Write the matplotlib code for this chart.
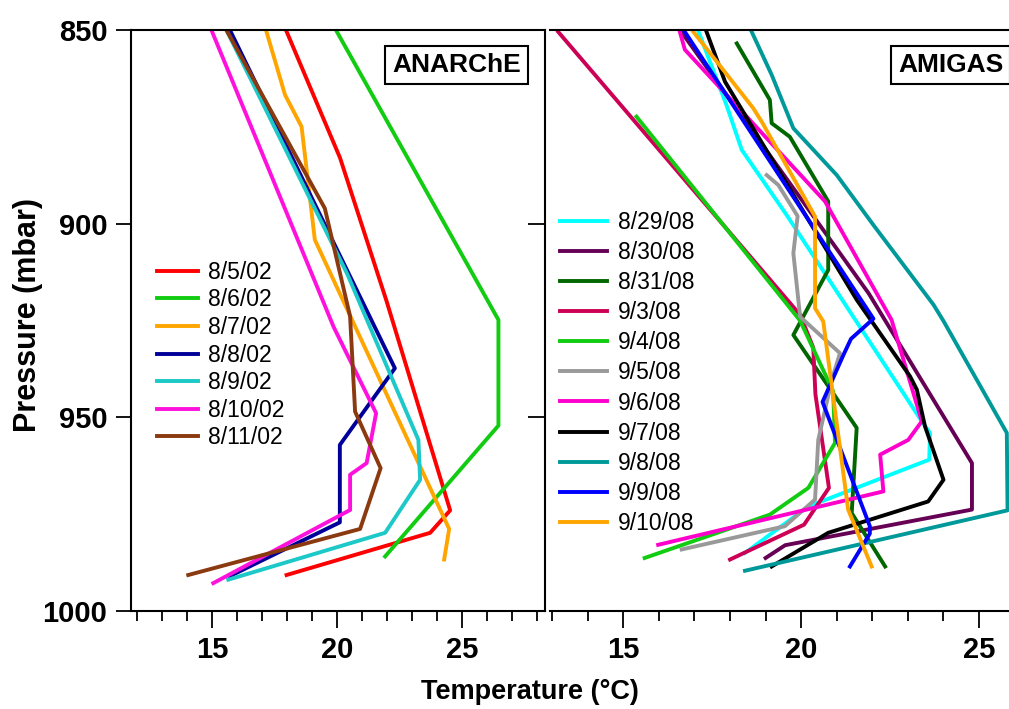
import matplotlib
matplotlib.use("Agg")
import matplotlib.pyplot as plt
from matplotlib.ticker import MultipleLocator

plt.rcParams['font.family'] = ['Liberation Sans', 'DejaVu Sans']

# ---- ANARChE soundings (left panel): pressure (mbar) / temperature (C)
p_0805 = [850, 883, 920, 974, 979.8, 990.7]
t_0805 = [17.95, 20.11, 21.97, 24.51, 23.71, 17.97]
p_0806 = [850, 924.8, 952.1, 985.9]
t_0806 = [19.95, 26.44, 26.44, 21.91]
p_0807 = [850, 866.7, 874.9, 904.1, 978.8, 986.7]
t_0807 = [17.15, 17.91, 18.57, 19.1, 24.47, 24.27]
p_0808 = [850, 937.3, 957.1, 977.1, 991]
t_0808 = [15.71, 22.3, 20.1, 20.1, 15.7]
p_0809 = [850, 913, 955.8, 966.1, 979.8, 991.9]
t_0809 = [15.57, 20.4, 23.24, 23.31, 21.91, 15.64]
p_0810 = [850, 926.6, 948.9, 961.8, 964.8, 973.9, 992.8]
t_0810 = [14.97, 19.85, 21.55, 21.17, 20.51, 20.51, 15.04]
p_0811 = [850, 896, 923.9, 948.5, 963.1, 978.8, 990.7]
t_0811 = [15.57, 19.5, 20.51, 20.71, 21.73, 20.91, 14.04]

anarche_dates = ['8/5/02', '8/6/02', '8/7/02', '8/8/02', '8/9/02', '8/10/02', '8/11/02']
anarche_p = [p_0805, p_0806, p_0807, p_0808, p_0809, p_0810, p_0811]
anarche_t = [t_0805, t_0806, t_0807, t_0808, t_0809, t_0810, t_0811]
anarche_colors = ['#ff0000', '#11cc11', '#ffa500', '#000099', '#1cc8c8', '#ff11dd', '#8b3a0f']

# ---- AMIGAS soundings (right panel)
p_0829 = [850, 869.3, 880.9, 897.7, 951, 954, 960.9, 973, 985]
t_0829 = [17.1, 17.9, 18.33, 19.59, 23.39, 23.62, 23.6, 20.2, 18.42]
p_0830 = [850, 918, 961.8, 973.8, 983, 986.3]
t_0830 = [16.6, 21.9, 24.8, 24.8, 19.55, 19.0]
p_0831 = [853.4, 868, 874, 877.5, 894.2, 911.9, 928.7, 952.7, 974.7, 988.5]
t_0831 = [18.19, 19.12, 19.17, 19.68, 20.76, 20.76, 19.78, 21.56, 21.42, 22.36]
p_0903 = [850.4, 923.5, 932, 944, 968.2, 977.7, 986.7]
t_0903 = [13.17, 19.97, 20.34, 20.4, 20.78, 20.08, 18.0]
p_0904 = [872.3, 925, 943.3, 956.6, 968.2, 975.1, 986.3]
t_0904 = [15.37, 19.97, 20.9, 20.95, 20.2, 19.12, 15.6]
p_0905 = [887.4, 890, 898, 907.6, 924, 933.4, 940.3, 955.8, 971.2, 978.1, 984.1]
t_0905 = [19.03, 19.36, 19.9, 19.78, 19.97, 21.09, 20.86, 20.48, 20.39, 19.54, 16.64]
p_0906 = [850.4, 855, 894.2, 924.8, 951, 955.8, 959.6, 969.1, 982.9]
t_0906 = [16.59, 16.73, 20.67, 22.54, 23.39, 23.01, 22.22, 22.31, 15.98]
p_0907 = [850.4, 863.3, 919.6, 939.4, 942.8, 952.3, 966.1, 971.7, 979.8, 988.5]
t_0907 = [17.34, 17.86, 21.56, 23.06, 23.25, 23.48, 24.0, 23.57, 20.76, 19.17]
p_0908 = [850.4, 861.5, 875.3, 887.4, 900.3, 920.9, 925.1, 954, 974, 989.6]
t_0908 = [18.61, 19.17, 19.78, 21.0, 22.03, 23.72, 24.0, 25.78, 25.8, 18.42]
p_0909 = [850.4, 924.5, 929.7, 934, 946, 978.1, 980, 988.5]
t_0909 = [16.73, 22.03, 21.4, 21.18, 20.6, 21.93, 21.93, 21.37]
p_0910 = [850.4, 870.1, 873.6, 898.1, 921.8, 925.2, 973.8, 988.5]
t_0910 = [16.97, 18.65, 18.89, 20.39, 20.39, 20.62, 21.32, 21.98]

amigas_dates = ['8/29/08', '8/30/08', '8/31/08', '9/3/08', '9/4/08', '9/5/08',
                '9/6/08', '9/7/08', '9/8/08', '9/9/08', '9/10/08']
amigas_p = [p_0829, p_0830, p_0831, p_0903, p_0904, p_0905, p_0906, p_0907, p_0908, p_0909, p_0910]
amigas_t = [t_0829, t_0830, t_0831, t_0903, t_0904, t_0905, t_0906, t_0907, t_0908, t_0909, t_0910]
amigas_colors = ['#00ffff', '#660055', '#006600', '#cc0055', '#11cc11', '#999999',
                 '#ff00cc', '#000000', '#009999', '#0000ff', '#ffa500']

pressure_ticks = [850, 900, 950, 1000]
temp_ticks = [15, 20, 25]

fig = plt.figure(figsize=(10.09, 7.09), dpi=100)
ax1 = fig.add_axes([0.1298, 0.1382, 0.4103, 0.8191])
ax2 = fig.add_axes([0.5451, 0.1382, 0.4605, 0.8191])

for p, t, c, d in zip(anarche_p, anarche_t, anarche_colors, anarche_dates):
    ax1.plot(t, p, color=c, lw=2.8, label=d)
for p, t, c, d in zip(amigas_p, amigas_t, amigas_colors, amigas_dates):
    ax2.plot(t, p, color=c, lw=2.8, label=d)

ax1.set_xlim(11.75, 28.3)
ax2.set_xlim(12.94, 26.0)

for ax in (ax1, ax2):
    ax.set_ylim(1000, 850)
    ax.set_yticks(pressure_ticks)
    ax.set_xticks(temp_ticks)
    ax.xaxis.set_minor_locator(MultipleLocator(1))
    for s in ax.spines.values():
        s.set_linewidth(1.5)
    ax.tick_params(axis='x', which='major', length=12, width=1.3, pad=6,
                   labelsize=21)
    ax.tick_params(axis='x', which='minor', length=7, width=1.3)
    for lab in ax.get_xticklabels():
        lab.set_fontweight('bold')

ax1.spines['right'].set_visible(False)
ax1.tick_params(axis='y', length=11, width=1.3, pad=6, labelsize=21)
for lab in ax1.get_yticklabels():
    lab.set_fontweight('bold')

ax2.spines['left'].set_position(('outward', 3.6))
ax2.tick_params(axis='y', length=12.5, width=1.3, labelleft=False)

ax1.legend(loc='upper left', bbox_to_anchor=(0.0628, 0.603), frameon=False,
           fontsize=16.5, handlelength=1.79, handletextpad=0.44,
           labelspacing=0.2, borderpad=0, borderaxespad=0)
ax2.legend(loc='upper left', bbox_to_anchor=(0.0215, 0.689), frameon=False,
           fontsize=16.5, handlelength=2.05, handletextpad=0.48,
           labelspacing=0.31, borderpad=0, borderaxespad=0)

box = dict(boxstyle='square,pad=0.27', fc='white', ec='black', lw=1.5)
ax1.text(0.787, 0.9408, 'ANARChE', transform=ax1.transAxes, ha='center',
         va='center', fontsize=19, fontweight='bold', bbox=box)
ax2.text(0.749, 0.9408, 'AMIGAS', transform=ax2.transAxes, ha='left',
         va='center', fontsize=19, fontweight='bold', bbox=box)

fig.text(0.525, 0.024, 'Temperature (°C)', ha='center', va='center',
         fontsize=19.5, fontweight='bold')
fig.text(0.0277, 0.5557, 'Pressure (mbar)', ha='center', va='center',
         rotation=90, fontsize=22, fontweight='bold')

fig.savefig('out.png', dpi=100)
